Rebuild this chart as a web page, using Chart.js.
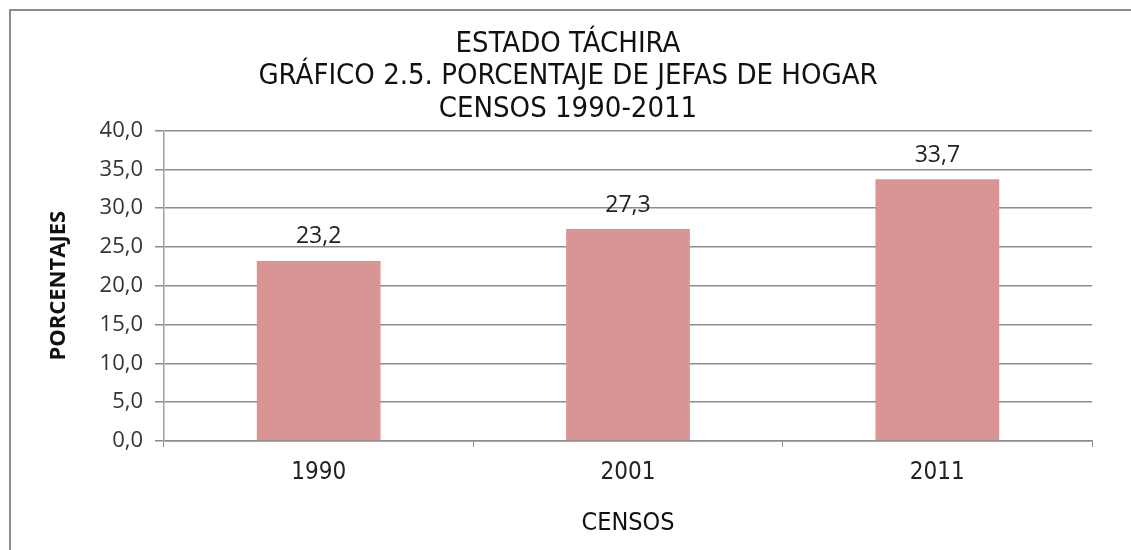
<!DOCTYPE html>
<html><head><meta charset="utf-8">
<script src="https://cdn.jsdelivr.net/npm/chart.js@4.4.1/dist/chart.umd.min.js"></script>
<style>
html,body{margin:0;padding:0;background:#fff;overflow:hidden}
#frame{position:absolute;left:9px;top:9px;width:1140px;height:560px;border:2px solid #8c8c8c;box-sizing:border-box}
#wrap{position:absolute;left:0;top:0;width:1131px;height:550px}
</style></head><body>
<div id="frame"></div>
<div id="wrap"><canvas id="c" width="1131" height="550"></canvas></div>
<script>
const categories = ['1990', '2001', '2011'];
const values = [23.2, 27.3, 33.7];
const yTicks = [0, 5, 10, 15, 20, 25, 30, 35, 40];
const titleLines = ['ESTADO TÁCHIRA', 'GRÁFICO 2.5. PORCENTAJE DE JEFAS DE HOGAR', 'CENSOS 1990-2011'];
const yTitle = 'PORCENTAJES';
const xTitle = 'CENSOS';

const fmt = v => Number(v).toFixed(1).replace('.', ',');
const condensed = '"Liberation Sans Narrow", "DejaVu Sans Condensed", "Roboto Condensed", sans-serif';
const human = '"Open Sans", "Noto Sans", sans-serif';

const valueLabels = {
  id: 'valueLabels',
  afterDatasetsDraw(chart) {
    const ctx = chart.ctx;
    const meta = chart.getDatasetMeta(0);
    ctx.save();
    ctx.font = '23px ' + human;
    ctx.fillStyle = '#222';
    ctx.textAlign = 'center';
    ctx.textBaseline = 'middle';
    meta.data.forEach((bar, i) => {
      ctx.fillText(fmt(chart.data.datasets[0].data[i]), bar.x, bar.y - 24);
    });
    ctx.restore();
  }
};

new Chart(document.getElementById('c'), {
  type: 'bar',
  data: {
    labels: categories,
    datasets: [{
      data: values,
      backgroundColor: '#d99594',
      borderWidth: 0,
      categoryPercentage: 1,
      barPercentage: 0.4
    }]
  },
  options: {
    responsive: false,
    animation: false,
    events: [],
    layout: { padding: { left: 44, right: 39, top: 0, bottom: 0 } },
    plugins: {
      legend: { display: false },
      tooltip: { enabled: false },
      title: {
        display: true,
        text: titleLines,
        color: '#111',
        font: { family: condensed, size: 29, weight: 'normal', lineHeight: 1.12 },
        padding: { top: 28, bottom: 5 }
      }
    },
    scales: {
      x: {
        afterFit(s) { s.height = 109; },
        grid: { display: true, drawOnChartArea: false, offset: true, tickLength: 6, color: '#8c8c8c' },
        border: { display: true, color: '#8c8c8c', width: 1.5 },
        ticks: { color: '#222', font: { family: condensed, size: 24 }, padding: 11 },
        title: { display: true, text: xTitle, color: '#111', font: { family: condensed, size: 25 }, padding: { top: 0, bottom: 12 } }
      },
      y: {
        min: 0, max: 40,
        afterFit(s) { s.width = 120; },
        afterBuildTicks(s) { s.ticks = yTicks.map(v => ({ value: v })); },
        grid: { color: '#8c8c8c', lineWidth: 1.5, tickLength: 9 },
        border: { display: true, color: '#a0a0a0', width: 1.5 },
        ticks: { color: '#333', font: { family: human, size: 22 }, padding: 12, callback: v => fmt(v) },
        title: { display: true, text: yTitle, color: '#111', font: { family: human, size: 22, weight: 'bold' }, padding: { top: 2, bottom: 0 } }
      }
    }
  },
  plugins: [valueLabels]
});
</script>
</body></html>
